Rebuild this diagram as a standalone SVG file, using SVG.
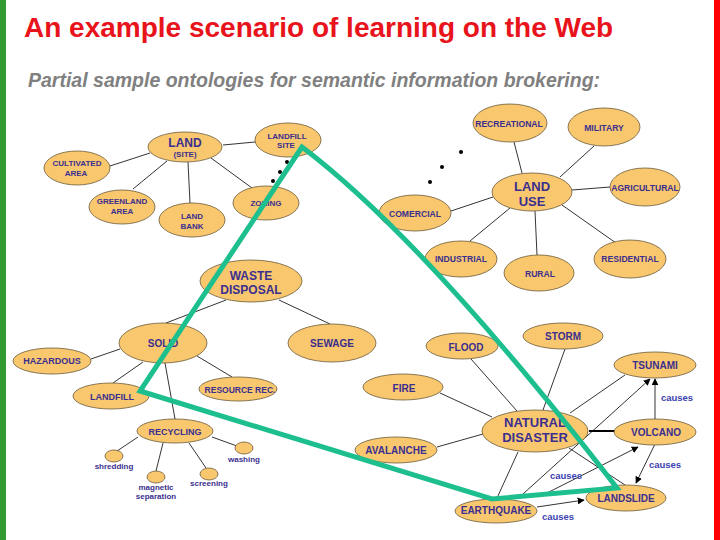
<svg xmlns="http://www.w3.org/2000/svg" width="720" height="540" viewBox="0 0 720 540">
<style>
.n{fill:#f8c76e;stroke:#6b5a3a;stroke-width:0.8}
.t{font-family:"Liberation Sans",Arial,sans-serif;font-weight:bold;fill:#3b2f8f;text-anchor:middle}
.s8{font-size:8px}
.s86{font-size:8.6px}
.s9{font-size:9px}
.s10{font-size:10px}
.s12{font-size:12px}
.s13{font-size:13px}
.e{stroke:#000;stroke-width:0.8;fill:none}
.a{stroke:#000;stroke-width:0.8;fill:none;marker-end:url(#ah)}
.c{font-family:"Liberation Sans",Arial,sans-serif;font-weight:bold;fill:#3b3fb0;font-size:9.5px;text-anchor:middle}
.dot{fill:#000}
</style>
<defs>
<marker id="ah" viewBox="0 0 10 10" refX="9" refY="5" markerWidth="7" markerHeight="7" markerUnits="userSpaceOnUse" orient="auto">
<path d="M0,0 L10,5 L0,10 z" fill="#000"/>
</marker>
</defs>
<rect x="0" y="0" width="720" height="540" fill="#fff"/>
<rect x="0" y="0" width="6" height="540" fill="#339933"/>
<rect x="714" y="0" width="6" height="540" fill="#ff0000"/>
<text x="24" y="37" font-family="Liberation Sans,Arial,sans-serif" font-weight="bold" font-size="28" fill="#e8131b">An example scenario of learning on the Web</text>
<text x="28" y="87" font-family="Liberation Sans,Arial,sans-serif" font-weight="bold" font-style="italic" font-size="19.5" fill="#808080">Partial sample ontologies for semantic information brokering:</text>

<g id="connectors">
<path class="e" d="M223,145 L255,142"/>
<path class="e" d="M150,153 L110,166"/>
<path class="e" d="M167,161 L133,189"/>
<path class="e" d="M188,162 L190,203"/>
<path class="e" d="M211,158 L252,188"/>
<path class="e" d="M522,173 L514,142"/>
<path class="e" d="M560,177 L594,146"/>
<path class="e" d="M572,190 L610,187"/>
<path class="e" d="M493,197 L451,211"/>
<path class="e" d="M510,208 L470,241"/>
<path class="e" d="M535,211 L537,255"/>
<path class="e" d="M562,205 L616,243"/>
<path class="e" d="M226,300 L166,323"/>
<path class="e" d="M279,300 L330,324"/>
<path class="e" d="M120,349 L91,359"/>
<path class="e" d="M143,362 L113,383"/>
<path class="e" d="M197,356 L232,377"/>
<path class="e" d="M165,363 L175,419"/>
<path class="e" d="M138,437 L117,451"/>
<path class="e" d="M163,443 L156,471"/>
<path class="e" d="M189,443 L206,468"/>
<path class="e" d="M212,437 L237,446"/>
<path class="e" d="M471,359 L517,411"/>
<path class="e" d="M565,349 L543,410"/>
<path class="e" d="M440,393 L492,417"/>
<path class="e" d="M437,447 L483,434"/>
<path class="e" d="M570,413 L625,375"/>
<path class="e" d="M518,452 L497,498"/>
<path class="e" d="M569,448 L625,485"/>
<path d="M589,431 L615,431" stroke="#000" stroke-width="2"/>
<path class="a" d="M655,419 L655,379"/>
<path class="a" d="M523,494 L650,379"/>
<path class="a" d="M547,493 L638,447"/>
<path class="a" d="M537,507 L584,500"/>
<path class="a" d="M655,444 L636,483"/>
<text class="c" x="677" y="401">causes</text>
<text class="c" x="665" y="468">causes</text>
<text class="c" x="566" y="479">causes</text>
<text class="c" x="558" y="520">causes</text>
</g>

<g id="dots">
<circle class="dot" cx="287" cy="162" r="2"/>
<circle class="dot" cx="280" cy="172" r="2"/>
<circle class="dot" cx="273" cy="181" r="2"/>
<circle class="dot" cx="461" cy="152" r="2"/>
<circle class="dot" cx="442" cy="167" r="2"/>
<circle class="dot" cx="430" cy="182" r="2"/>
</g>

<g id="land"><ellipse class="n" cx="185" cy="147" rx="37" ry="15"/><text class="t s12" x="185" y="147">LAND</text><text class="t s8" x="185" y="157">(SITE)</text></g>
<g id="landfill-site"><ellipse class="n" cx="288" cy="140" rx="33" ry="17"/><text class="t s8" x="287" y="139">LANDFILL</text><text class="t s8" x="286" y="148">SITE</text></g>
<g id="cultivated"><ellipse class="n" cx="77" cy="168" rx="33" ry="17"/><text class="t s8" x="77" y="166">CULTIVATED</text><text class="t s8" x="76" y="176">AREA</text></g>
<g id="greenland"><ellipse class="n" cx="122" cy="207" rx="33" ry="17"/><text class="t s8" x="122" y="204">GREENLAND</text><text class="t s8" x="122" y="214">AREA</text></g>
<g id="land-bank"><ellipse class="n" cx="192" cy="220" rx="33" ry="17"/><text class="t s8" x="192" y="219">LAND</text><text class="t s8" x="192" y="229">BANK</text></g>
<g id="zoning"><ellipse class="n" cx="266" cy="203" rx="33" ry="17"/><text class="t s8" x="266" y="206">ZONING</text></g>

<g id="recreational"><ellipse class="n" cx="510" cy="123" rx="37" ry="19"/><text class="t s86" x="509" y="127">RECREATIONAL</text></g>
<g id="military"><ellipse class="n" cx="604" cy="127" rx="36" ry="19"/><text class="t s86" x="604" y="131">MILITARY</text></g>
<g id="land-use"><ellipse class="n" cx="532" cy="192" rx="40" ry="19"/><text class="t s13" x="532" y="191">LAND</text><text class="t s13" x="532" y="206">USE</text></g>
<g id="agricultural"><ellipse class="n" cx="645" cy="187" rx="35" ry="19"/><text class="t s86" x="645" y="191">AGRICULTURAL</text></g>
<g id="comercial"><ellipse class="n" cx="415" cy="213" rx="36" ry="18"/><text class="t s86" x="415" y="217">COMERCIAL</text></g>
<g id="industrial"><ellipse class="n" cx="461" cy="259" rx="36" ry="18"/><text class="t s86" x="461" y="262">INDUSTRIAL</text></g>
<g id="rural"><ellipse class="n" cx="539" cy="273" rx="35" ry="18"/><text class="t s86" x="540" y="277">RURAL</text></g>
<g id="residential"><ellipse class="n" cx="630" cy="259" rx="36" ry="19"/><text class="t s86" x="630" y="262">RESIDENTIAL</text></g>

<g id="waste-disposal"><ellipse class="n" cx="251" cy="281" rx="51" ry="21"/><text class="t s12" x="251" y="280">WASTE</text><text class="t s12" x="251" y="294">DISPOSAL</text></g>
<g id="solid"><ellipse class="n" cx="163" cy="343" rx="44" ry="20"/><text class="t s10" x="163" y="347">SOLID</text></g>
<g id="sewage"><ellipse class="n" cx="332" cy="343" rx="44" ry="19"/><text class="t s10" x="332" y="347">SEWAGE</text></g>
<g id="hazardous"><ellipse class="n" cx="52" cy="361" rx="39" ry="13"/><text class="t s9" x="52" y="364">HAZARDOUS</text></g>
<g id="landfill"><ellipse class="n" cx="111" cy="396" rx="38" ry="13"/><text class="t s9" x="112" y="400">LANDFILL</text></g>
<g id="resource-rec"><ellipse class="n" cx="238" cy="389" rx="39" ry="12"/><text class="t" style="font-size:8.5px" x="240" y="393">RESOURCE REC.</text></g>
<g id="recycling"><ellipse class="n" cx="175" cy="431" rx="38" ry="12"/><text class="t s9" x="175" y="435">RECYCLING</text></g>
<g id="shredding"><ellipse class="n" cx="114" cy="456" rx="9" ry="6"/><text class="t s8" x="114" y="469">shredding</text></g>
<g id="magnetic"><ellipse class="n" cx="156" cy="477" rx="9" ry="6"/><text class="t s8" x="156" y="490">magnetic</text><text class="t s8" x="156" y="499">separation</text></g>
<g id="screening"><ellipse class="n" cx="209" cy="474" rx="9" ry="6"/><text class="t s8" x="209" y="486">screening</text></g>
<g id="washing"><ellipse class="n" cx="244" cy="448" rx="9" ry="6"/><text class="t s8" x="244" y="462">washing</text></g>

<g id="flood"><ellipse class="n" cx="462" cy="346" rx="36" ry="13"/><text class="t s10" x="466" y="351">FLOOD</text></g>
<g id="storm"><ellipse class="n" cx="563" cy="336" rx="40" ry="13"/><text class="t s10" x="563" y="340">STORM</text></g>
<g id="tsunami"><ellipse class="n" cx="655" cy="365" rx="41" ry="13"/><text class="t s10" x="655" y="369">TSUNAMI</text></g>
<g id="fire"><ellipse class="n" cx="403" cy="387" rx="40" ry="13"/><text class="t s10" x="404" y="392">FIRE</text></g>
<g id="natural-disaster"><ellipse class="n" cx="535" cy="431" rx="53" ry="21"/><text class="t s13" x="535" y="427">NATURAL</text><text class="t s13" x="535" y="442">DISASTER</text></g>
<g id="volcano"><ellipse class="n" cx="655" cy="432" rx="41" ry="13"/><text class="t s10" x="656" y="436">VOLCANO</text></g>
<g id="avalanche"><ellipse class="n" cx="396" cy="450" rx="41" ry="13"/><text class="t s10" x="396" y="454">AVALANCHE</text></g>
<g id="landslide"><ellipse class="n" cx="626" cy="498" rx="40" ry="13"/><text class="t s10" x="626" y="502">LANDSLIDE</text></g>
<g id="earthquake"><ellipse class="n" cx="496" cy="511" rx="41" ry="12"/><text class="t s10" x="496" y="514">EARTHQUAKE</text></g>

<g id="highlight">
<path d="M302,147 L140,391 L492,499 L617,488 Q425,240 302,147 Z" fill="none" stroke="#1dbf8e" stroke-width="5" stroke-linejoin="miter"/>
</g>
</svg>
